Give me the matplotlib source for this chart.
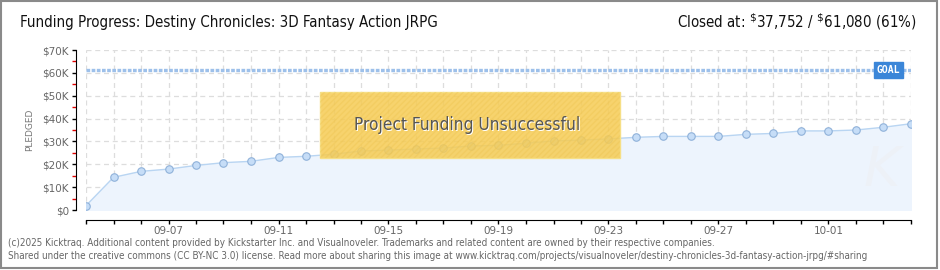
import matplotlib
matplotlib.use("Agg")
import matplotlib.pyplot as plt
from matplotlib.patches import Rectangle
import numpy as np

# ---------------- data ----------------
dates = ["09-04", "09-05", "09-06", "09-07", "09-08", "09-09", "09-10", "09-11",
         "09-12", "09-13", "09-14", "09-15", "09-16", "09-17", "09-18", "09-19",
         "09-20", "09-21", "09-22", "09-23", "09-24", "09-25", "09-26", "09-27",
         "09-28", "09-29", "09-30", "10-01", "10-02", "10-03", "10-04"]
pledged = [1900, 14300, 16900, 17900, 19500, 20700, 21300, 23000,
           23500, 24400, 25800, 26200, 26700, 27100, 28000, 28300,
           29200, 30200, 30600, 31100, 31800, 32200, 32200, 32200,
           33100, 33500, 34600, 34600, 35000, 36200, 37752]
goal = 61080
y_ticks = [0, 10000, 20000, 30000, 40000, 50000, 60000, 70000]
y_tick_labels = ["$0", "$10K", "$20K", "$30K", "$40K", "$50K", "$60K", "$70K"]
title = "Funding Progress: Destiny Chronicles: 3D Fantasy Action JRPG"
status_text = "Project Funding Unsuccessful"
footer1 = ("(c)2025 Kicktraq. Additional content provided by Kickstarter Inc. and Visualnoveler. "
           "Trademarks and related content are owned by their respective companies.")
footer2 = ("Shared under the creative commons (CC BY-NC 3.0) license. Read more about sharing this image at "
           "www.kicktraq.com/projects/visualnoveler/destiny-chronicles-3d-fantasy-action-jrpg/#sharing")

plt.rcParams["font.family"] = ["DejaVu Sans"]
COND = dict(family="DejaVu Sans", fontstretch="condensed")

W, H = 940, 270
fig = plt.figure(figsize=(W / 100, H / 100), dpi=100)
fig.patch.set_facecolor("white")

def fx(px):
    return px / W

def fy(py):
    return 1 - py / H

PX = 72 / 100  # points per pixel

# outer frame
fig.add_artist(Rectangle((fx(1), fy(268)), fx(936), 267 / H, transform=fig.transFigure,
                         fill=False, edgecolor="#8a8a8a", lw=1.5))

left_px, right_px, top_px, bot_px = 86, 911, 50, 210
ax = fig.add_axes([fx(left_px), fy(bot_px), fx(right_px - left_px), (bot_px - top_px) / H])
x = np.arange(len(dates))
ax.set_xlim(0, len(dates) - 1)
ax.set_ylim(0, 70000)

# grid
ax.set_yticks(y_ticks)
ax.set_yticklabels(y_tick_labels)
ax.set_yticks([5000, 15000, 25000, 35000, 45000, 55000, 65000], minor=True)
ax.set_xticks(x)
ax.set_xticklabels([d if (i - 3) % 4 == 0 else "" for i, d in enumerate(dates)])
ax.grid(True, which="major", color="#dddddd", ls=(0, (4, 3)), lw=0.9)
ax.set_axisbelow(True)

# data
ax.fill_between(x, pledged, 0, color="#edf4fd", zorder=1)
ax.plot(x, pledged, color="#b9d5f2", lw=1.0, zorder=2)
ax.plot(x, pledged, ls="none", marker="o", ms=5.4, mfc="#c6ddf7", mec="#8fb1d9", mew=0.8, zorder=3)

# goal line
ax.axhline(goal, color="#9dc0ea", lw=2.4, ls=(0, (1.1, 0.45)), zorder=2)
gx = (900 - left_px) / (right_px - left_px)
ax.text(gx, goal, "GOAL", ha="right", va="center", color="white",
        fontsize=7, family="DejaVu Sans Mono", fontweight="bold", zorder=6,
        transform=ax.get_yaxis_transform(),
        bbox=dict(boxstyle="square,pad=0.3", fc="#3b86d8", ec="#3b86d8"))

# spines
for s in ["top", "right"]:
    ax.spines[s].set_visible(False)
ax.spines["left"].set_position(("outward", 10 * PX))
ax.spines["bottom"].set_position(("outward", 10 * PX))
ax.spines["left"].set_color("black")
ax.spines["bottom"].set_color("black")
ax.tick_params(axis="y", which="major", length=3, width=1, color="black",
               labelsize=7.5, labelcolor="#666666", pad=2)
ax.tick_params(axis="y", which="minor", length=3, width=1, color="#e00000")
ax.tick_params(axis="x", which="major", length=3, width=1, color="black", direction="out",
               labelsize=7.5, labelcolor="#666666", pad=1.5)
ax.set_ylabel("PLEDGED", fontsize=6.5, color="#777777", labelpad=6)

# unsuccessful box
bx0 = (320 - left_px) / (right_px - left_px)
bx1 = (620 - left_px) / (right_px - left_px)
by0 = (bot_px - 158) / (bot_px - top_px)
by1 = (bot_px - 92) / (bot_px - top_px)
ax.add_patch(Rectangle((bx0, by0), bx1 - bx0, by1 - by0, transform=ax.transAxes,
                       fc=(0.965, 0.80, 0.33, 0.85), ec="#f6df86", lw=1.0, zorder=5))
ax.add_patch(Rectangle((bx0, by0), bx1 - bx0, by1 - by0, transform=ax.transAxes,
                       fill=False, hatch="//////", ec=(0.93, 0.76, 0.30, 0.35), lw=0, zorder=5))
tcx = (467 - left_px) / (right_px - left_px)
tcy = (bot_px - 125) / (bot_px - top_px)
ax.text(tcx + 0.001, tcy - 0.008, status_text, transform=ax.transAxes, ha="center", va="center",
        fontsize=12.4, color="white", zorder=6, **COND)
ax.text(tcx, tcy, status_text, transform=ax.transAxes, ha="center", va="center",
        fontsize=12.4, color="#555555", zorder=7, **COND)

# watermark
ax.text(0.965, 0.25, "K", transform=ax.transAxes, ha="center", va="center", fontsize=40,
        style="italic", color="#edf1f7", zorder=1.5)

# header
fig.text(fx(20), fy(22), title, ha="left", va="center", fontsize=10.8, color="#111111", **COND)
fig.text(fx(917), fy(22), r"Closed at: $^{\$}$37,752 / $^{\$}$61,080 (61%)", ha="right", va="center",
         fontsize=10.8, color="#111111", **COND)

# footer
fig.text(fx(8), fy(243), footer1, ha="left", va="center", fontsize=7.1, color="#666666", **COND)
fig.text(fx(8), fy(256), footer2, ha="left", va="center", fontsize=7.1, color="#666666", **COND)

fig.savefig("out.png", dpi=100, facecolor="white")
